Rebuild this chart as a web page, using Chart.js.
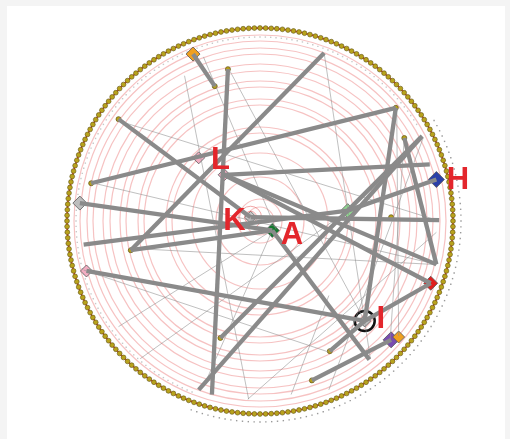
<!DOCTYPE html>
<html>
<head>
<meta charset="utf-8">
<script src="https://cdn.jsdelivr.net/npm/chart.js@4/dist/chart.umd.min.js"></script>
<style>
  body { margin: 0; background: #f4f4f4; width: 510px; height: 439px; overflow: hidden; position: relative; }
  #panel { position: absolute; left: 7px; top: 6px; width: 498px; height: 433px; background: #fff; }
  canvas { position: absolute; left: 40px; top: 1px; }
</style>
</head>
<body>
<div id="panel"></div>
<canvas id="rings" width="440" height="440"></canvas>
<canvas id="graph" width="440" height="440"></canvas>
<script>
// ring of nodes round the outside
var nodeCount = 216;
var nodeIds = [];
for (var i = 0; i < nodeCount; i++) nodeIds.push(String(100 + i));
var outerRadius = 193;
var ringRadii = [14, 22, 44, 68, 88, 94, 116, 122, 134, 140, 150, 157, 167, 173, 180, 186];

// highlighted nodes (x, y with the big circle centre at 0,0)
var hubNames = ['orangeTop', 'L1', 'L2', 'K', 'A', 'lightGreen', 'H', 'red', 'I', 'purple', 'orangeLow', 'greyLeft', 'pinkLeft'];
var hubX = [-71, -65, -38, -10, 13, 93, 187, 181, 111, 139, 147, -191, -184];
var hubY = [177, 67, 49, 4, -10, 11, 44, -66, -106, -126, -123, 19, -53];

// small yellow inner nodes
var smallX = [-48, -34, -150, -179, -137, 144, 153, 139, -42, 74, 55];
var smallY = [143, 161, 108, 40, -31, 120, 88, 4, -124, -138, -169];

// thick edges [x1, y1, x2, y2]
var thickEdges = [
  [-71, 177, -48, 143],
  [-34, 161, -51, -184],
  [68, 178, -137, -31],
  [-150, 108, -10, 4],
  [-179, 40, 144, 120],
  [-38, 49, 180, 60],
  [-38, 49, 187, -46],
  [-38, 49, 181, -66],
  [-191, 19, 13, -10],
  [-187, -25, 93, 11],
  [93, 11, 187, 44],
  [-137, -31, 13, -10],
  [-10, 4, 190, 1],
  [13, -10, 116, -147],
  [-184, -53, 111, -106],
  [111, -106, 181, -66],
  [74, -138, 111, -106],
  [55, -169, 139, -126],
  [144, 120, 111, -106],
  [153, 88, 187, -46],
  [170, 88, -65, -179],
  [-42, -124, 172, 90]
];

// thin edges [x1, y1, x2, y2]
var thinEdges = [
  [-60, 174, 17, -9],
  [-80, 154, -12, -189],
  [68, 178, 117, -146],
  [145, 114, 147, -122],
  [153, 88, 138, -126],
  [-180, 41, 187, -46],
  [-137, -29, 183, -46],
  [-187, -52, 73, -139],
  [-150, -112, 13, -10],
  [-127, -146, 93, 11],
  [-60, -176, 13, -10],
  [33, -184, 73, -79],
  [173, 88, 73, -179],
  [-33, 161, 111, -106],
  [-143, 104, 187, 1],
  [-13, -189, 187, -12]
];

// big red letters
var letterText = ['L', 'K', 'A', 'H', 'I'];
var letterX = [-42, -27, 34, 210, 128];
var letterY = [64, -1, -15, 43, -104];

// ---- styles ----
var hubColors = ['#f0a020', '#f3adc2', '#f3adc2', '#c8c8c8', '#137a2e', '#8fd88f', '#2c3fa8', '#e01e1e', '#c0c0c0', '#7a4cb0', '#f0a020', '#bdbdbd', '#f3adc2'];
var hubSizes = [7, 6, 6, 6, 7, 7, 8, 7, 6, 8, 6, 7, 6];

var outerData = [], outsideTags = [], insideTags = [];
for (var i = 0; i < nodeCount; i++) {
  outerData.push(outerRadius);
  outsideTags.push(i >= 36 && i <= 120 ? 201 : null);
  insideTags.push(i >= 36 && i <= 120 ? null : 184);
}

new Chart(document.getElementById('rings'), {
  type: 'radar',
  data: {
    labels: nodeIds,
    datasets: [{
      data: outerData,
      borderColor: '#e53030',
      backgroundColor: 'rgba(0,0,0,0)',
      fill: false,
      borderWidth: 1.6,
      pointRadius: 2.4,
      pointBackgroundColor: '#b8a21c',
      pointBorderColor: '#5e5010',
      pointBorderWidth: 0.6
    }, {
      data: outsideTags,
      showLine: false,
      fill: false,
      backgroundColor: 'rgba(0,0,0,0)',
      pointStyle: 'rect',
      pointRadius: 1,
      pointBackgroundColor: '#9a9a9a',
      pointBorderWidth: 0
    }, {
      data: insideTags,
      showLine: false,
      fill: false,
      backgroundColor: 'rgba(0,0,0,0)',
      pointStyle: 'rect',
      pointRadius: 1,
      pointBackgroundColor: '#c8c8c8',
      pointBorderWidth: 0
    }]
  },
  options: {
    responsive: false,
    animation: false,
    plugins: { legend: { display: false }, tooltip: { enabled: false } },
    scales: {
      r: {
        min: 0,
        max: 220,
        afterBuildTicks: function(scale) {
          scale.ticks = [0].concat(ringRadii).map(function(v) { return { value: v }; });
        },
        ticks: { display: false },
        pointLabels: { display: false },
        angleLines: { display: false },
        grid: { circular: true, color: 'rgba(235,120,120,0.45)', lineWidth: 1.2 }
      }
    }
  }
});

var datasets = [];
thinEdges.forEach(function(e) {
  datasets.push({
    data: [{ x: e[0], y: e[1] }, { x: e[2], y: e[3] }],
    showLine: true, borderColor: 'rgba(140,140,140,0.55)', borderWidth: 1, pointRadius: 0, clip: false
  });
});
thickEdges.forEach(function(e) {
  datasets.push({
    data: [{ x: e[0], y: e[1] }, { x: e[2], y: e[3] }],
    showLine: true, borderColor: '#8a8a8a', borderWidth: 4.3, pointRadius: 0, clip: false
  });
});
// pink rings round K
datasets.push({
  data: [{ x: hubX[3], y: hubY[3] }, { x: hubX[3], y: hubY[3] }],
  pointRadius: [6, 11], pointBackgroundColor: 'rgba(0,0,0,0)', pointBorderColor: 'rgba(232,110,110,0.6)', pointBorderWidth: 1
});
datasets.push({
  data: smallX.map(function(x, i) { return { x: x, y: smallY[i] }; }),
  pointRadius: 2.5, pointBackgroundColor: '#b8a21c', pointBorderColor: '#5e5010', pointBorderWidth: 0.7, clip: false
});
datasets.push({
  data: hubX.map(function(x, i) { return { x: x, y: hubY[i] }; }),
  pointStyle: 'rectRot', pointRadius: hubSizes, pointBackgroundColor: hubColors,
  pointBorderColor: '#555', pointBorderWidth: 0.8, clip: false
});
// black circle round I
datasets.push({
  data: [{ x: hubX[8], y: hubY[8] }],
  pointRadius: 10, pointBackgroundColor: 'rgba(0,0,0,0)', pointBorderColor: '#111', pointBorderWidth: 2.5, clip: false
});

var letterPlugin = {
  id: 'letters',
  afterDatasetsDraw: function(chart) {
    var c = chart.ctx, sx = chart.scales.x, sy = chart.scales.y;
    c.save();
    c.font = 'bold 31px "Liberation Sans", Arial, sans-serif';
    c.fillStyle = '#e3262c';
    c.textAlign = 'center';
    c.textBaseline = 'middle';
    letterText.forEach(function(t, i) {
      c.fillText(t, sx.getPixelForValue(letterX[i]), sy.getPixelForValue(letterY[i]));
    });
    c.restore();
  }
};

new Chart(document.getElementById('graph'), {
  type: 'scatter',
  data: { datasets: datasets },
  options: {
    responsive: false,
    animation: false,
    plugins: { legend: { display: false }, tooltip: { enabled: false } },
    scales: {
      x: { type: 'linear', min: -220, max: 220, display: false },
      y: { type: 'linear', min: -220, max: 220, display: false }
    }
  },
  plugins: [letterPlugin]
});
</script>
</body>
</html>
